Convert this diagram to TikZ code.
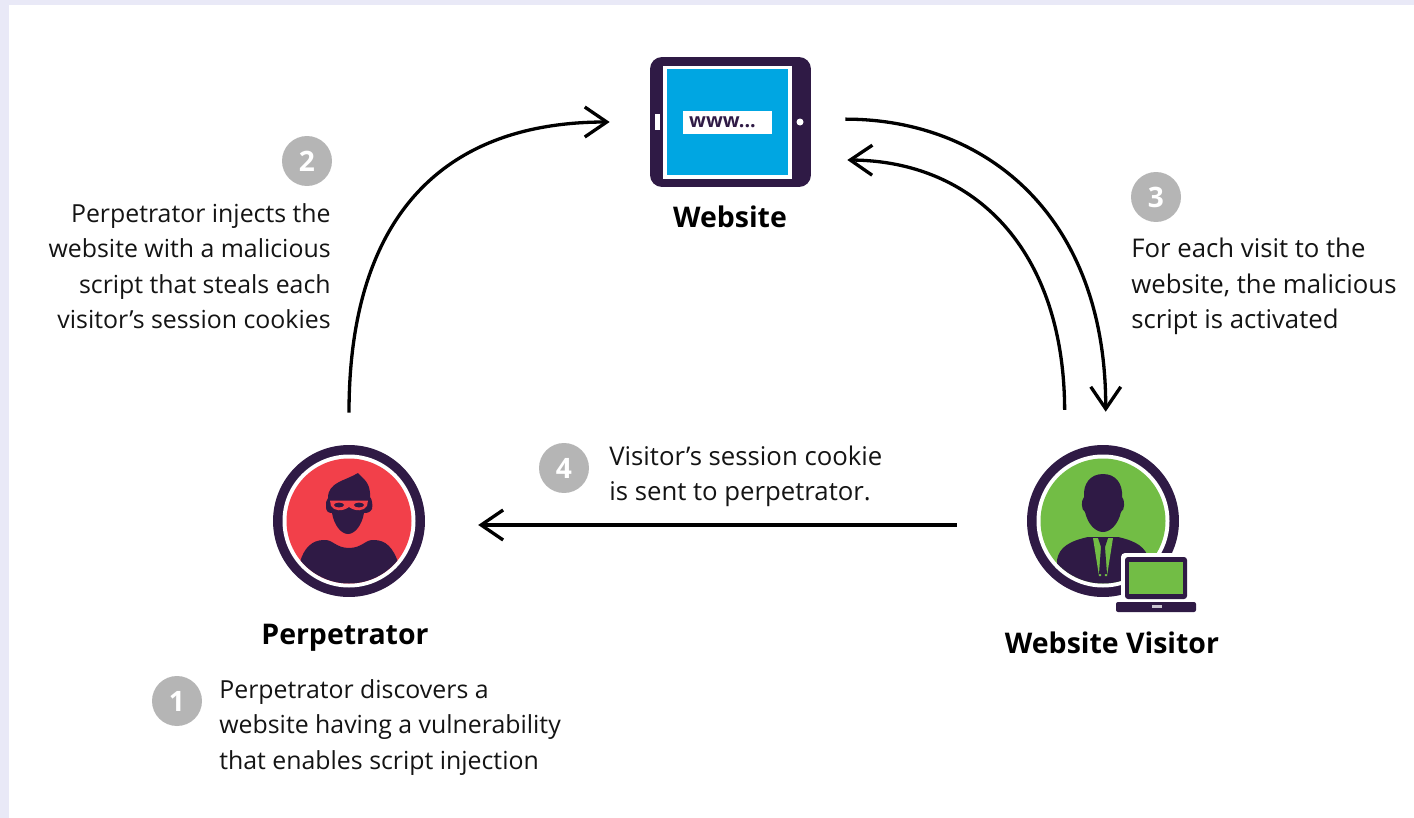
\documentclass[tikz,border=0pt]{standalone}
\usepackage{fontspec}
\setmainfont{Open Sans}
\usetikzlibrary{arrows.meta}
\definecolor{inkdark}{HTML}{2F1A45}
\definecolor{pagetint}{HTML}{E9E9F7}
\definecolor{siteblue}{HTML}{00A6E2}
\definecolor{perpred}{HTML}{F2404A}
\definecolor{visitgreen}{HTML}{72BD45}
\definecolor{badgegray}{HTML}{B5B5B5}
\tikzset{
	flow/.style={->,line width=0.066cm,black},
	avatar/.style={circle,fill=inkdark,minimum size=3.04cm,inner sep=0pt},
	badge/.style={circle,fill=badgegray,text=white,minimum size=1cm,inner sep=0pt,font=\fontsize{16}{16}\selectfont\bfseries},
	caption/.style={inner sep=0pt,font=\fontsize{16.2}{20.2}\selectfont\bfseries},
	note/.style={inner sep=0pt,text=black!92,font=\fontsize{14.15}{20.2}\selectfont},
	widenote/.style={note,font=\fontsize{14.65}{20.2}\selectfont}
}
\begin{document}
\begin{tikzpicture}[x=0.02cm,y=-0.02cm,>={Straight Barb[length=0.44cm,width=0.6cm]}]
	\useasboundingbox (0,0) rectangle (1414,818);
	\fill[pagetint] (0,0) rectangle (1414,818);
	\fill[white] (9,5) rectangle (1414,818);
	% website tablet
	\node[fill=inkdark,rounded corners=0.24cm,minimum width=3.22cm,minimum height=2.6cm,inner sep=0pt] (site) at (730.5,122) {};
	\fill[white] (663,66) rectangle (792,179);
	\fill[siteblue] (667,69) rectangle (788,175);
	\node[fill=white,minimum width=1.78cm,minimum height=0.46cm,inner sep=0pt] (url) at (727.5,122.5) {};
	\node[inner sep=0pt,text=inkdark,font=\fontsize{11.2}{11.2}\selectfont\bfseries] (urltext) at (722.5,122) {www...};
	\fill[white] (655,114) rectangle (660,130);
	\fill[white] (800,122) circle[radius=3.5];
	\node[caption] (sitelabel) at (730,217) {Website};
	% perpetrator
	\node[avatar] (perp) at (349,521) {};
	\fill[white] (349,521) circle[radius=66.5];
	\fill[perpred] (349,521) circle[radius=62.5];
	\begin{scope}
		\clip (349,521) circle[radius=62.5];
		\fill[inkdark] (300,562) .. controls (304,548) and (312,540) .. (324,540) .. controls (332,539) and (336,548) .. (349,548) .. controls (362,548) and (366,539) .. (374,540) .. controls (386,540) and (393,548) .. (398,562) -- (398,590) -- (300,590) -- cycle;
	\end{scope}
	\fill[inkdark] (328,498) .. controls (328,482) and (345,481) .. (358,473) .. controls (362,478) and (371,482) .. (370,497) .. controls (372,499) and (373,505) .. (372,509) .. controls (370,513) and (366,513) .. (364,513) .. controls (362,525) and (355,534) .. (348,534) .. controls (341,534) and (334,525) .. (332,513) .. controls (328,513) and (326,511) .. (326,507) .. controls (326,503) and (326,500) .. (328,498) -- cycle;
	\fill[perpred] (330,500.5) -- (368,500.5) -- (367,506) .. controls (364,511) and (356,512) .. (349,507) .. controls (342,512) and (334,511) .. (331,506) -- cycle;
	\fill[inkdark] (339,505) ellipse[x radius=5,y radius=2.4];
	\fill[inkdark] (359,505) ellipse[x radius=5,y radius=2.4];
	\node[caption] (perplabel) at (345,638) {Perpetrator};
	% website visitor
	\node[avatar] (visitor) at (1103,521) {};
	\fill[white] (1103,521) circle[radius=66.5];
	\fill[visitgreen] (1103,521) circle[radius=62.5];
	\begin{scope}
		\clip (1103,521) circle[radius=62.5];
		\fill[inkdark] (1057,560) .. controls (1059,547) and (1070,541) .. (1088,537) -- (1118,537) .. controls (1136,541) and (1146,547) .. (1149,560) -- (1149,590) -- (1057,590) -- cycle;
		\fill[visitgreen] (1093,538) -- (1113,538) -- (1107,576) -- (1105,576) -- (1103,552) -- (1101,576) -- (1099,576) -- cycle;
		\fill[inkdark] (1098,538) -- (1108,538) -- (1105,547) -- (1107,574) -- (1099,574) -- (1101,547) -- cycle;
	\end{scope}
	\fill[inkdark] (1103,474) .. controls (1116,474) and (1123,484) .. (1122,497) .. controls (1125,500) and (1125,510) .. (1121,512) .. controls (1118,525) and (1110,532) .. (1103,532) .. controls (1096,532) and (1088,525) .. (1085,512) .. controls (1081,510) and (1081,500) .. (1084,497) .. controls (1083,484) and (1090,474) .. (1103,474) -- cycle;
	% laptop
	\fill[white,rounded corners=0.08cm] (1121,553) rectangle (1191,603);
	\fill[white,rounded corners=0.08cm] (1112,599) rectangle (1200,616);
	\fill[inkdark,rounded corners=0.06cm] (1125,557) rectangle (1187,599);
	\fill[visitgreen] (1129,562) rectangle (1183,594);
	\fill[inkdark,rounded corners=0.04cm] (1116,602) rectangle (1196,612);
	\fill[white!75!inkdark] (1152,605) rectangle (1162,608);
	\node[caption] (visitorlabel) at (1112,643) {Website Visitor};
	% connectors
	\draw[flow,shorten <=0.64cm,shorten >=0.8cm] (perp.north) .. controls (349,220) and (440,122) .. (site.west);
	\draw[flow,shorten <=0.68cm,shorten >=0.66cm] (site.2) .. controls (985,119) and (1106,215) .. (visitor.88);
	\draw[flow,shorten <=0.9cm,shorten >=0.72cm] (visitor.120) .. controls (1064,250) and (975,161) .. (site.-25);
	\draw[flow,shorten <=1.4cm,shorten >=1.06cm] (visitor.183) -- (perp.357);
	% steps
	\node[badge] (badgeone) at (177,701) {1};
	\node[note,anchor=west,align=left] (noteone) at (219,727.5) {Perpetrator discovers a\\website having a vulnerability\\that enables script injection};
	\node[badge] (badgetwo) at (307,161) {2};
	\node[note,anchor=east,align=right] (notetwo) at (331,266) {Perpetrator injects the\\website with a malicious\\script that steals each\\visitor’s session cookies};
	\node[badge] (badgethree) at (1156,197) {3};
	\node[widenote,anchor=west,align=left] (notethree) at (1131,286.5) {For each visit to the\\website, the malicious\\script is activated};
	\node[badge] (badgefour) at (564,468) {4};
	\node[widenote,anchor=west,align=left] (notefour) at (609,476.5) {Visitor’s session cookie\\is sent to perpetrator.};
\end{tikzpicture}
\end{document}
